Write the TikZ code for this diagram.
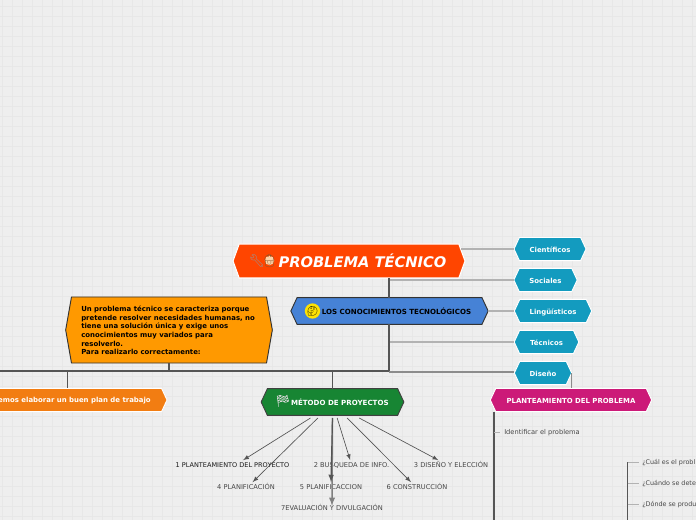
\documentclass[tikz,border=0pt]{standalone}
\usepackage{fontspec}
\setmainfont{DejaVu Sans}
\newfontfamily\emojifont{Noto Emoji}
\usetikzlibrary{arrows,shapes.symbols}
\tikzset{>=latex}
\definecolor{fondo}{HTML}{EEEEEE}
\definecolor{rejilla}{HTML}{E7E7E7}
\definecolor{rojizo}{HTML}{FF4500}
\definecolor{azul}{HTML}{4682D6}
\definecolor{naranja}{HTML}{FF9900}
\definecolor{plan}{HTML}{F27D12}
\definecolor{verde}{HTML}{178533}
\definecolor{magenta}{HTML}{CC1A78}
\definecolor{cian}{HTML}{139BBF}
\definecolor{linea}{HTML}{555555}
\tikzset{hexa/.style={signal, signal to=west and east, signal pointer angle=130, outer sep=0pt, inner sep=0pt, align=center, text height=4.6pt, text depth=0pt}}
\tikzset{tema/.style={hexa, draw=white, line width=0.7pt, font=\fontsize{5.2}{6}\selectfont\bfseries, text=white}}
\tikzset{saber/.style={tema, fill=cian, minimum height=17.5pt}}
\tikzset{hoja/.style={font=\fontsize{5}{6}\selectfont, text=black!72, inner sep=0pt, text height=3.7pt, text depth=0pt}}
\tikzset{flecha/.style={->, draw=linea, line width=0.5pt}}
\tikzset{rama/.style={draw=linea, line width=0.9pt}}
\tikzset{enlace/.style={draw=black!30, line width=0.9pt}}
\begin{document}
\begin{tikzpicture}[x=0.75pt,y=-0.75pt]
\useasboundingbox (0,0) rectangle (696,520);
\clip (0,0) rectangle (696,520);
\fill[fondo] (0,0) rectangle (696,520);
\foreach \i in {0,...,69} \draw[rejilla, line width=0.4pt] ({2.7+10*\i},0) -- ({2.7+10*\i},520);
\foreach \i in {0,...,51} \draw[rejilla, line width=0.4pt] (0,{6.7+10*\i}) -- (696,{6.7+10*\i});

% coordinates of the trunk
\coordinate (izq) at (0,371);
\coordinate (cruce) at (67,371);
\coordinate (codo) at (389,371);
\coordinate (base) at (494,520);
\coordinate (baseder) at (627.5,520);

\node[hexa, fill=rojizo, draw=white, line width=0.8pt, signal pointer angle=140, minimum width=174pt, minimum height=25.5pt, text=white, text height=9.5pt, font=\fontsize{11}{12}\selectfont\bfseries\itshape] (problema) at (349,261) {\hspace{20.2pt}PROBLEMA TÉCNICO};
\node[text=black!42, font=\fontsize{9.5}{10}\emojifont, inner sep=0pt] (llave) at (257,261) {🔧};
\node[circle, fill=orange!35!white, minimum size=7pt, inner sep=0pt] (cabeza) at (269.5,260.5) {};
\node[text=brown!70!black, font=\fontsize{9.5}{10}\emojifont, inner sep=0pt] (persona) at (269.5,261.5) {👷};

\node[hexa, fill=azul, draw=black!80, line width=0.7pt, minimum width=148pt, minimum height=20pt, text=black, font=\fontsize{5.3}{6}\selectfont\bfseries] (conocimientos) at (389.5,311) {\hspace{10.5pt}LOS CONOCIMIENTOS TECNOLÓGICOS};
\node[circle, fill=yellow!85!orange, minimum size=8.5pt, inner sep=0pt, font=\fontsize{7}{8}\emojifont] (cara) at (312.5,311) {🤔};

\node[saber, minimum width=54pt] (cientificos) at (550,249) {Científicos};
\node[saber, minimum width=47.5pt] (sociales) at (545.5,280) {Sociales};
\node[saber, minimum width=58pt] (linguisticos) at (553,311) {Lingüísticos};
\node[saber, minimum width=48.5pt] (tecnicos) at (546.5,342) {Técnicos};
\node[saber, minimum width=43pt] (diseno) at (543,373) {Diseño};

\node[hexa, fill=naranja, draw=black!80, line width=0.7pt, signal pointer angle=160, minimum width=155pt, minimum height=49.5pt] (definicion) at (169,330) {};
\node[anchor=west, align=left, inner sep=0pt, font=\fontsize{5.2}{6.4}\selectfont\bfseries] (texto) at (81,330.5) {Un problema técnico se caracteriza porque\\pretende resolver necesidades humanas, no\\tiene una solución única y exige unos\\conocimientos muy variados para\\resolverlo.\\Para realizarlo correctamente:};

\node[tema, fill=plan, minimum width=150pt, minimum height=17.5pt, anchor=east] (plantrabajo) at (167,400) {};
\node[anchor=east, inner sep=0pt, text=white, font=\fontsize{5.2}{6}\selectfont\bfseries] (plantexto) at (151,400.5) {emos elaborar un buen plan de trabajo};
\node[hexa, fill=verde, draw=black!75, line width=0.7pt, minimum width=107pt, minimum height=20pt, text=white, font=\fontsize{5.3}{6}\selectfont\bfseries] (metodo) at (332.5,402) {\hspace{11pt}MÉTODO DE PROYECTOS};
\node[text=white!85!black, font=\fontsize{9}{9}\emojifont, inner sep=0pt] (bandera) at (283,401) {🏁};
\node[tema, fill=magenta, minimum width=121pt, minimum height=17.5pt] (planteamiento) at (571,400) {PLANTEAMIENTO DEL PROBLEMA};

\node[hoja, text=black!90, font=\fontsize{4.9}{6}\selectfont] (uno) at (232.5,465.5) {1 PLANTEAMIENTO DEL PROYECTO};
\node[hoja] (dos) at (351.5,465.5) {2 BUSQUEDA DE INFO.};
\node[hoja] (tres) at (451,465.5) {3 DISEÑO Y ELECCIÓN};
\node[hoja] (cuatro) at (246,487.5) {4 PLANIFICACIÓN};
\node[hoja] (cinco) at (331,487.5) {5 PLANIFICACCION};
\node[hoja] (seis) at (417,487.5) {6 CONSTRUCCIÓN};
\node[hoja] (siete) at (332,508.5) {7EVALUACIÓN Y DIVULGACIÓN};

\node[hoja, anchor=west] (identificar) at (504,432.5) {Identificar el problema};
\node[hoja, anchor=west, font=\fontsize{4.8}{6}\selectfont] (cual) at (642,462) {¿Cuál es el probl};
\node[hoja, anchor=west, font=\fontsize{4.8}{6}\selectfont] (cuando) at (642,483.5) {¿Cuándo se dete};
\node[hoja, anchor=west, font=\fontsize{4.8}{6}\selectfont] (donde) at (642,504.5) {¿Dónde se produ};

\draw[enlace] ([xshift=-3pt]cientificos.west -| problema.east) -- (cientificos.west);
\draw[enlace] (codo |- sociales.west) -- (sociales.west);
\draw[enlace] (conocimientos.east) -- (linguisticos.west);
\draw[enlace] (codo |- tecnicos.west) -- (tecnicos.west);
\draw[enlace, draw=black!45, line width=1.5pt] ([yshift=-0.4pt]codo) -- ([yshift=-0.4pt]codo -| diseno.west);
\draw[enlace, draw=black!45, line width=1.2pt] (diseno.east) -- (diseno.east |- planteamiento.north);
\draw[rama, line width=1.3pt] (problema.south -| codo) -- (conocimientos.north -| codo);
\draw[rama, line width=1.3pt] (conocimientos.south -| codo) -- (codo);
\draw[rama] (izq) -- (codo);
\draw[rama, line width=1.3pt] (definicion.south) -- (definicion.south |- izq);
\draw[rama, line width=0.7pt] (cruce) -- (cruce |- plantrabajo.north);
\draw[rama, line width=1.1pt] (metodo.north) -- (metodo.north |- izq);

\draw[flecha] ([xshift=-16.5pt,yshift=-2pt]metodo.south) -- ([xshift=8pt,yshift=2pt]uno.north);
\draw[flecha] ([xshift=-11pt,yshift=-2pt]metodo.south) -- ([xshift=5pt,yshift=2pt]cuatro.north);
\draw[flecha, draw=black!50, line width=1.1pt] ([yshift=-2pt]metodo.south) -- (siete.north);
\draw[flecha, line width=0.9pt] ([yshift=-2pt]metodo.south) -- ([yshift=2pt]cinco.north);
\draw[flecha] ([xshift=3.5pt,yshift=-2pt]metodo.south) -- ([xshift=-1pt,yshift=2pt]dos.north);
\draw[flecha] ([xshift=11pt,yshift=-2pt]metodo.south) -- ([xshift=-4.5pt,yshift=2pt]seis.north);
\draw[flecha] ([xshift=20pt,yshift=-2pt]metodo.south) -- ([xshift=-9.5pt,yshift=2pt]tres.north);

\draw[rama] (base |- planteamiento.south) -- (base);
\draw[enlace, line width=0.6pt] (base |- identificar.west) -- ([xshift=-3pt]identificar.west);
\draw[rama, line width=0.7pt] (baseder |- cual.west) -- (baseder);
\draw[enlace, line width=0.6pt] (baseder |- cual.west) -- ([xshift=-2.5pt]cual.west);
\draw[enlace, line width=0.6pt] (baseder |- cuando.west) -- ([xshift=-2.5pt]cuando.west);
\draw[enlace, line width=0.6pt] (baseder |- donde.west) -- ([xshift=-2.5pt]donde.west);
\end{tikzpicture}
\end{document}
